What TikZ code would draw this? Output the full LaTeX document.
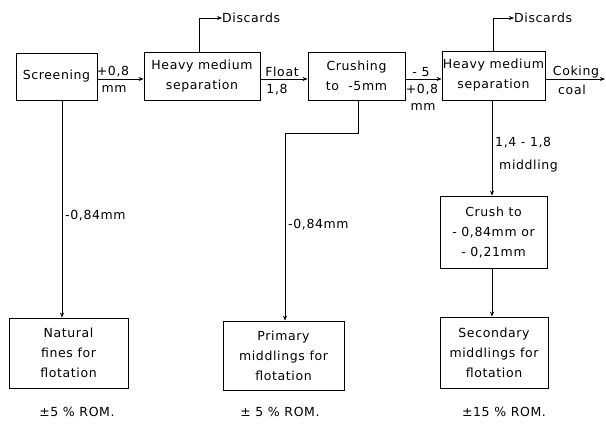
\documentclass[tikz,border=0pt]{standalone}
\usepackage{fontspec}
\setmainfont{DejaVu Sans}[LetterSpace=5]
\usetikzlibrary{arrows.meta}
\begin{document}
\begin{tikzpicture}[x=1pt,y=-1pt,
  every node/.style={font=\fontsize{12.5}{20}\selectfont, inner sep=0pt},
  box/.style={draw, line width=0.8pt, align=center},
  arr/.style={draw, line width=0.7pt, -{Stealth[length=5pt,width=4pt]}},
  lbl/.style={anchor=west},
  rom/.style={anchor=center}]
\useasboundingbox (0,0) rectangle (606,428);
% boxes
\node[box, minimum width=81, minimum height=47] (scr) at (56.5,76.5) {Screening};
\node[box, minimum width=116, minimum height=48] (hms1) at (202,76) {Heavy medium\\separation};
\node[box, minimum width=97, minimum height=48] (crush) at (356.5,76) {Crushing\\to \ -5mm};
\node[box, minimum width=103, minimum height=49] (hms2) at (493.5,75.5) {Heavy medium\\separation};
\node[box, minimum width=107, minimum height=72] (crushto) at (493.5,232) {Crush to\\- 0,84mm or\\- 0,21mm};
\node[box, minimum width=119, minimum height=70] (nat) at (68.5,353) {Natural\\fines for\\flotation};
\node[box, minimum width=121, minimum height=69] (prim) at (283.5,355.5) {Primary\\middlings for\\flotation};
\node[box, minimum width=108, minimum height=71] (sec) at (494,352.5) {Secondary\\middlings for\\flotation};
% discards
\node[lbl] (disc1) at (222,18) {Discards};
\node[lbl] (disc2) at (514,18) {Discards};
\draw[arr] ([xshift=-3]hms1.north) |- (disc1.west);
\draw[arr] (hms2.north) |- (disc2.west);
% main line
\coordinate (yl) at (0,79);
\coordinate (endc) at (605,79);
\draw[arr] (scr.east |- yl) -- (hms1.west |- yl);
\draw[arr] (hms1.east |- yl) -- (crush.west |- yl);
\draw[arr] (crush.east |- yl) -- (hms2.west |- yl);
\draw[arr] (hms2.east |- yl) -- (endc);
\node (l1a) at (113,72) {+0,8};
\node (l1b) at (114,89) {mm};
\node (l2a) at (282,72) {Float};
\node (l2b) at (277,90) {1,8};
\node (l3a) at (421,72) {- 5};
\node (l3b) at (422,90) {+0,8};
\node (l3c) at (423,107) {mm};
\node (l4a) at (576,72) {Coking};
\node (l4b) at (572,90) {coal};
% down lines
\coordinate (c1) at (62,0);
\draw[arr] (scr.south -| c1) -- (nat.north -| c1);
\node[lbl] (m1) at (65,216) {-0,84mm};
\coordinate (b1) at (358,133);
\coordinate (b2) at (285,133);
\draw[arr] (crush.south -| b1) -- (b1) -- (b2) -- (prim.north -| b2);
\node[lbl] (m2) at (288,225) {-0,84mm};
\coordinate (c3) at (492,0);
\draw[arr] (hms2.south -| c3) -- (crushto.north -| c3);
\node[lbl] (m3) at (495,143) {1,4 - 1,8};
\node[lbl] (m4) at (499,166) {middling};
\draw[arr] (crushto.south -| c3) -- (sec.north -| c3);
% ROM
\node[rom] (r1) at (77,412) {±5 \% ROM.};
\node[rom] (r2) at (280,412) {± 5 \% ROM.};
\node[rom] (r3) at (504,412) {±15 \% ROM.};
\end{tikzpicture}
\end{document}
